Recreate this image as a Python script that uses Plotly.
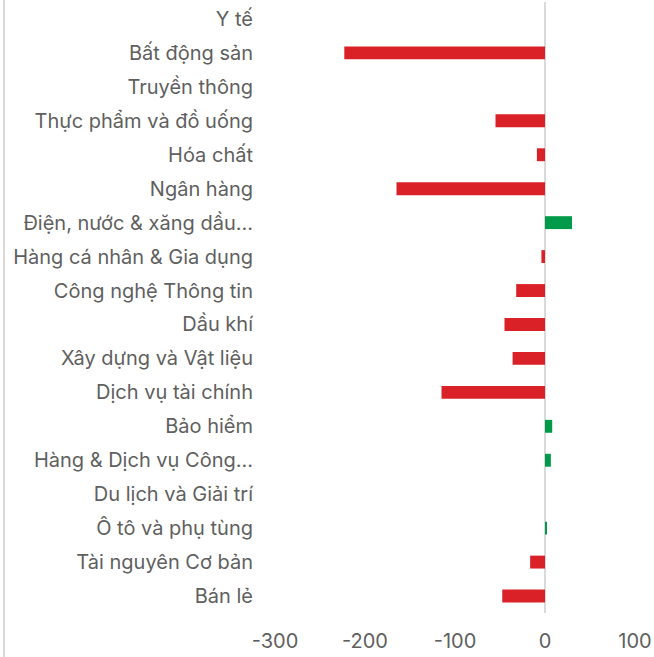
import plotly.graph_objects as go

categories = [
    "Y tế", "Bất động sản", "Truyền thông", "Thực phẩm và đồ uống", "Hóa chất",
    "Ngân hàng", "Điện, nước & xăng dầu...", "Hàng cá nhân & Gia dụng",
    "Công nghệ Thông tin", "Dầu khí", "Xây dựng và Vật liệu", "Dịch vụ tài chính",
    "Bảo hiểm", "Hàng & Dịch vụ Công...", "Du lịch và Giải trí", "Ô tô và phụ tùng",
    "Tài nguyên Cơ bản", "Bán lẻ",
]
values = [0, -223, 0, -55, -9, -165, 30, -4, -32, -45, -36, -115, 8, 6.5, 0, 2, -16.5, -47.5]
tick_vals = [-300, -200, -100, 0, 100]
tick_text = ["-300", "-200", "-100", "0", "100"]

RED = "#da2128"
GREEN = "#009a4a"
colors = [GREEN if v > 0 else RED for v in values]

fig = go.Figure(go.Bar(
    x=values, y=categories, orientation="h",
    marker=dict(color=colors, line=dict(width=0)),
    width=0.38,
))

fig.update_layout(
    width=654, height=657,
    margin=dict(l=275, r=19, t=2, b=44),
    paper_bgcolor="white", plot_bgcolor="white",
    font=dict(family="Inter, Roboto, sans-serif", size=20, color="#5f5f5f"),
    showlegend=False,
    xaxis=dict(
        range=[-300, 100], tickvals=tick_vals, ticktext=tick_text,
        showgrid=False, zeroline=True, zerolinecolor="#d9d9d9", zerolinewidth=2,
        showline=False, ticks="", ticklabelstandoff=14,
        tickfont=dict(size=20, color="#5f5f5f"), fixedrange=True,
    ),
    yaxis=dict(
        autorange="reversed", showgrid=False, zeroline=False, showline=False,
        ticks="", ticklabelstandoff=21,
        tickfont=dict(size=20, color="#5f5f5f"),
    ),
    shapes=[dict(
        type="line", xref="paper", yref="paper",
        x0=-271 / 360, x1=-271 / 360, y0=-44 / 611, y1=1 + 2 / 611,
        line=dict(color="#d9d9d9", width=2),
    )],
)

fig.write_html(
    "out.html",
    config={"displayModeBar": False},
    post_script="document.body.style.margin='0';document.body.style.padding='0';",
)
